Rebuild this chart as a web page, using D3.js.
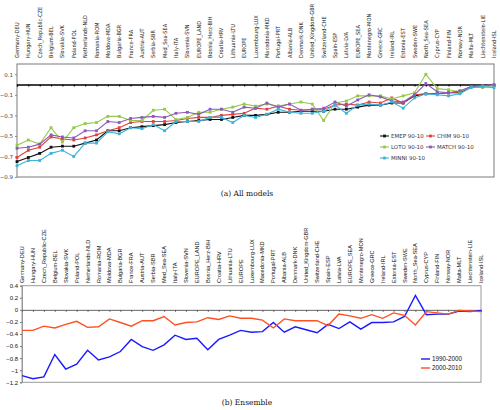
<!DOCTYPE html>
<html><head><meta charset="utf-8">
<script src="https://cdn.jsdelivr.net/npm/d3@7"></script>
<style>body{margin:0;background:#fff}svg{display:block}</style>
</head><body><svg id="c" width="500" height="410"></svg>
<script>
const categories = ["Germany-DEU","Hungary-HUN","Czech_Republic-CZE","Belgium-BEL","Slovakia-SVK","Poland-POL","Netherlands-NLD","Romania-ROM","Moldova-MDA","Bulgaria-BGR","France-FRA","Austria-AUT","Serbia-SBR","Med_Sea-SEA","Italy-ITA","Slovenia-SVN","EUROPE_LAND","Bosnia_Herz-BIH","Croatia-HRV","Lithuania-LTU","EUROPE","Luxembourg-LUX","Macedonia-MKD","Portugal-PRT","Albania-ALB","Denmark-DNK","United_Kingdom-GBR","Switzerland-CHE","Spain-ESP","Latvia-LVA","EUROPE_SEA","Montenegro-MON","Greece-GRC","Ireland-IRL","Estonia-EST","Sweden-SWE","North_Sea-SEA","Cyprus-CYP","Finland-FIN","Norway-NOR","Malta-MLT","Liechtenstein-LIE","Iceland-ISL"];

const emep = [-0.75,-0.71,-0.67,-0.61,-0.60,-0.60,-0.57,-0.54,-0.45,-0.45,-0.42,-0.41,-0.40,-0.39,-0.37,-0.36,-0.35,-0.34,-0.34,-0.32,-0.30,
  -0.30,-0.29,-0.27,-0.27,-0.26,-0.26,-0.26,-0.24,-0.24,-0.22,-0.20,-0.20,-0.18,-0.18,-0.11,-0.09,-0.09,-0.08,-0.08,-0.02,-0.01,-0.01];
const chim = [-0.71,-0.64,-0.61,-0.51,-0.53,-0.54,-0.52,-0.49,-0.45,-0.42,-0.37,-0.36,-0.36,-0.36,-0.35,-0.33,-0.32,-0.32,-0.30,-0.29,-0.28,
  -0.23,-0.24,-0.21,-0.24,-0.25,-0.24,-0.24,-0.20,-0.19,-0.20,-0.17,-0.18,-0.13,-0.18,-0.10,-0.09,-0.09,-0.08,-0.07,-0.02,-0.01,-0.01];
const loto = [-0.59,-0.54,-0.58,-0.42,-0.56,-0.42,-0.38,-0.37,-0.31,-0.31,-0.35,-0.35,-0.25,-0.24,-0.34,-0.32,-0.27,-0.27,-0.24,-0.22,-0.19,
  -0.21,-0.19,-0.21,-0.19,-0.17,-0.19,-0.35,-0.18,-0.16,-0.11,-0.11,-0.11,-0.14,-0.11,-0.08,0.10,-0.04,-0.05,-0.07,-0.02,-0.03,-0.01];
const match = [-0.62,-0.61,-0.58,-0.49,-0.51,-0.52,-0.45,-0.45,-0.36,-0.37,-0.33,-0.32,-0.31,-0.32,-0.28,-0.27,-0.29,-0.24,-0.24,-0.27,-0.22,
  -0.23,-0.18,-0.22,-0.19,-0.25,-0.24,-0.23,-0.17,-0.21,-0.15,-0.10,-0.12,-0.16,-0.17,-0.10,0.01,-0.07,-0.08,-0.06,-0.02,-0.01,0.00];
const minni = [-0.79,-0.74,-0.74,-0.67,-0.64,-0.70,-0.57,-0.57,-0.46,-0.48,-0.42,-0.43,-0.39,-0.45,-0.36,-0.36,-0.36,-0.32,-0.32,-0.37,-0.30,
  -0.32,-0.29,-0.24,-0.27,-0.28,-0.28,-0.26,-0.20,-0.28,-0.20,-0.19,-0.20,-0.17,-0.23,-0.13,-0.09,-0.10,-0.11,-0.09,-0.03,-0.02,-0.03];

const ens9000 = [-1.09,-1.14,-1.11,-0.74,-0.98,-0.90,-0.67,-0.83,-0.78,-0.69,-0.49,-0.61,-0.67,-0.58,-0.42,-0.49,-0.47,-0.66,-0.49,-0.42,-0.34,
  -0.37,-0.36,-0.21,-0.37,-0.28,-0.33,-0.38,-0.24,-0.31,-0.20,-0.32,-0.21,-0.21,-0.20,-0.11,0.24,-0.08,-0.07,-0.07,-0.02,-0.03,-0.01];
const ens0010 = [-0.34,-0.34,-0.27,-0.30,-0.24,-0.19,-0.29,-0.28,-0.15,-0.21,-0.27,-0.18,-0.18,-0.11,-0.25,-0.21,-0.20,-0.13,-0.16,-0.10,-0.14,
  -0.14,-0.17,-0.30,-0.15,-0.18,-0.18,-0.18,-0.26,-0.07,-0.10,-0.14,-0.08,-0.14,-0.05,-0.09,-0.25,-0.03,-0.05,-0.07,-0.01,-0.02,-0.03];

const topTicks = [0.1,-0.1,-0.3,-0.5,-0.7,-0.9];
const botTicks = [0.4,0.2,0,-0.2,-0.4,-0.6,-0.8,-1,-1.2];
const topSeries = [
  {name:"EMEP 90-10", values:emep, color:"#111111"},
  {name:"CHIM 90-10", values:chim, color:"#e2413b"},
  {name:"LOTO 90-10", values:loto, color:"#95c94a"},
  {name:"MATCH 90-10", values:match, color:"#8b5bb8"},
  {name:"MINNI 90-10", values:minni, color:"#3ab4dc"}
];
const botSeries = [
  {name:"1990-2000", values:ens9000, color:"#1a1aff"},
  {name:"2000-2010", values:ens0010, color:"#ff5020"}
];

const svg = d3.select("#c");

// ---------- Top panel ----------
const xT = d3.scalePoint().domain(categories).range([17, 494]);
const yT = d3.scaleLinear().domain([-0.9, 0.2]).range([177, 64]);

svg.append("rect").attr("x",17).attr("y",64).attr("width",477).attr("height",113)
  .attr("fill","none").attr("stroke","#7a7a7a").attr("stroke-width",1);

const gyT = svg.append("g").attr("transform","translate(17,0)")
  .call(d3.axisLeft(yT).tickValues(topTicks).tickSize(2).tickFormat(d3.format(".1f")));
gyT.select(".domain").remove();
gyT.selectAll("line").attr("stroke","#888");
gyT.selectAll("text").attr("font-family","DejaVu Sans, sans-serif").attr("font-size",5.5).attr("fill","#444").attr("x",-4);

const gxT = svg.append("g").attr("transform",`translate(0,${yT(0)})`)
  .call(d3.axisBottom(xT).tickSize(2).tickFormat(""));
gxT.select(".domain").attr("stroke","#000").attr("stroke-width",1.4);
gxT.selectAll("line").attr("stroke","#000");

svg.append("g").selectAll("text").data(categories).join("text")
  .attr("transform", d => `translate(${xT(d)+2},58) rotate(-90)`)
  .attr("text-anchor","start")
  .attr("font-family","DejaVu Sans Condensed, DejaVu Sans, sans-serif").attr("font-size",5.6).attr("fill","#222")
  .text(d => d);

const lineT = d3.line().x((d,i)=>xT(categories[i])).y(d=>yT(d));
topSeries.forEach(s => {
  svg.append("path").datum(s.values).attr("d",lineT).attr("fill","none")
    .attr("stroke",s.color).attr("stroke-width",1.1);
  svg.append("g").selectAll("rect").data(s.values).join("rect")
    .attr("x",(d,i)=>xT(categories[i])-1.4).attr("y",d=>yT(d)-1.4)
    .attr("width",2.8).attr("height",2.8).attr("fill",s.color);
});

// legend top
const legPos = [[380,136],[426,136],[380,147],[426,147],[380,158]];
topSeries.forEach((s,k) => {
  const [lx,ly] = legPos[k];
  svg.append("line").attr("x1",lx).attr("x2",lx+9).attr("y1",ly).attr("y2",ly)
    .attr("stroke",s.color).attr("stroke-width",1.1);
  svg.append("rect").attr("x",lx+4.5-1.4).attr("y",ly-1.4).attr("width",2.8).attr("height",2.8).attr("fill",s.color);
  svg.append("text").attr("x",lx+11).attr("y",ly+2).attr("font-family","DejaVu Sans, sans-serif")
    .attr("font-size",5.5).attr("fill","#333").text(s.name);
});

svg.append("text").attr("x",247).attr("y",196).attr("text-anchor","middle")
  .attr("font-family","DejaVu Serif, Liberation Serif, serif").attr("font-size",7.5).attr("fill","#111")
  .text("(a)  All models");

// ---------- Bottom panel ----------
const xB = d3.scalePoint().domain(categories).range([22, 481]);
const yB = d3.scaleLinear().domain([-1.2, 0.4]).range([382.3, 285.7]);

svg.append("rect").attr("x",22).attr("y",285.7).attr("width",459).attr("height",96.6)
  .attr("fill","none").attr("stroke","#9a9a9a").attr("stroke-width",1);

const gyB = svg.append("g").attr("transform","translate(22,0)")
  .call(d3.axisLeft(yB).tickValues(botTicks).tickSize(2).tickFormat(d3.format("~g")));
gyB.select(".domain").attr("stroke","#9a9a9a");
gyB.selectAll("line").attr("stroke","#777");
gyB.selectAll("text").attr("font-family","Liberation Sans, Arial, sans-serif").attr("font-size",6).attr("fill","#111").attr("x",-4);

const gxB = svg.append("g").attr("transform",`translate(0,${yB(0)})`)
  .call(d3.axisBottom(xB).tickSize(2).tickFormat(""));
gxB.select(".domain").attr("stroke","#666").attr("stroke-width",1);
gxB.selectAll("line").attr("stroke","#666");

svg.append("g").selectAll("text").data(categories).join("text")
  .attr("transform", d => `translate(${xB(d)+2},283) rotate(-90)`)
  .attr("text-anchor","start")
  .attr("font-family","Liberation Sans, Arial, sans-serif").attr("font-size",5.6).attr("fill","#111")
  .text(d => d);

const lineB = d3.line().x((d,i)=>xB(categories[i])).y(d=>yB(d));
botSeries.forEach(s => {
  svg.append("path").datum(s.values).attr("d",lineB).attr("fill","none")
    .attr("stroke",s.color).attr("stroke-width",1.4);
});

botSeries.forEach((s,k) => {
  const ly = 359 + k*9;
  svg.append("line").attr("x1",421).attr("x2",430).attr("y1",ly).attr("y2",ly)
    .attr("stroke",s.color).attr("stroke-width",1.4);
  svg.append("text").attr("x",432).attr("y",ly+2.2).attr("font-family","Liberation Sans, Arial, sans-serif")
    .attr("font-size",6.3).attr("fill","#111").text(s.name);
});

svg.append("text").attr("x",247).attr("y",405).attr("text-anchor","middle")
  .attr("font-family","DejaVu Serif, Liberation Serif, serif").attr("font-size",7.5).attr("fill","#111")
  .text("(b)  Ensemble");
</script></body></html>
